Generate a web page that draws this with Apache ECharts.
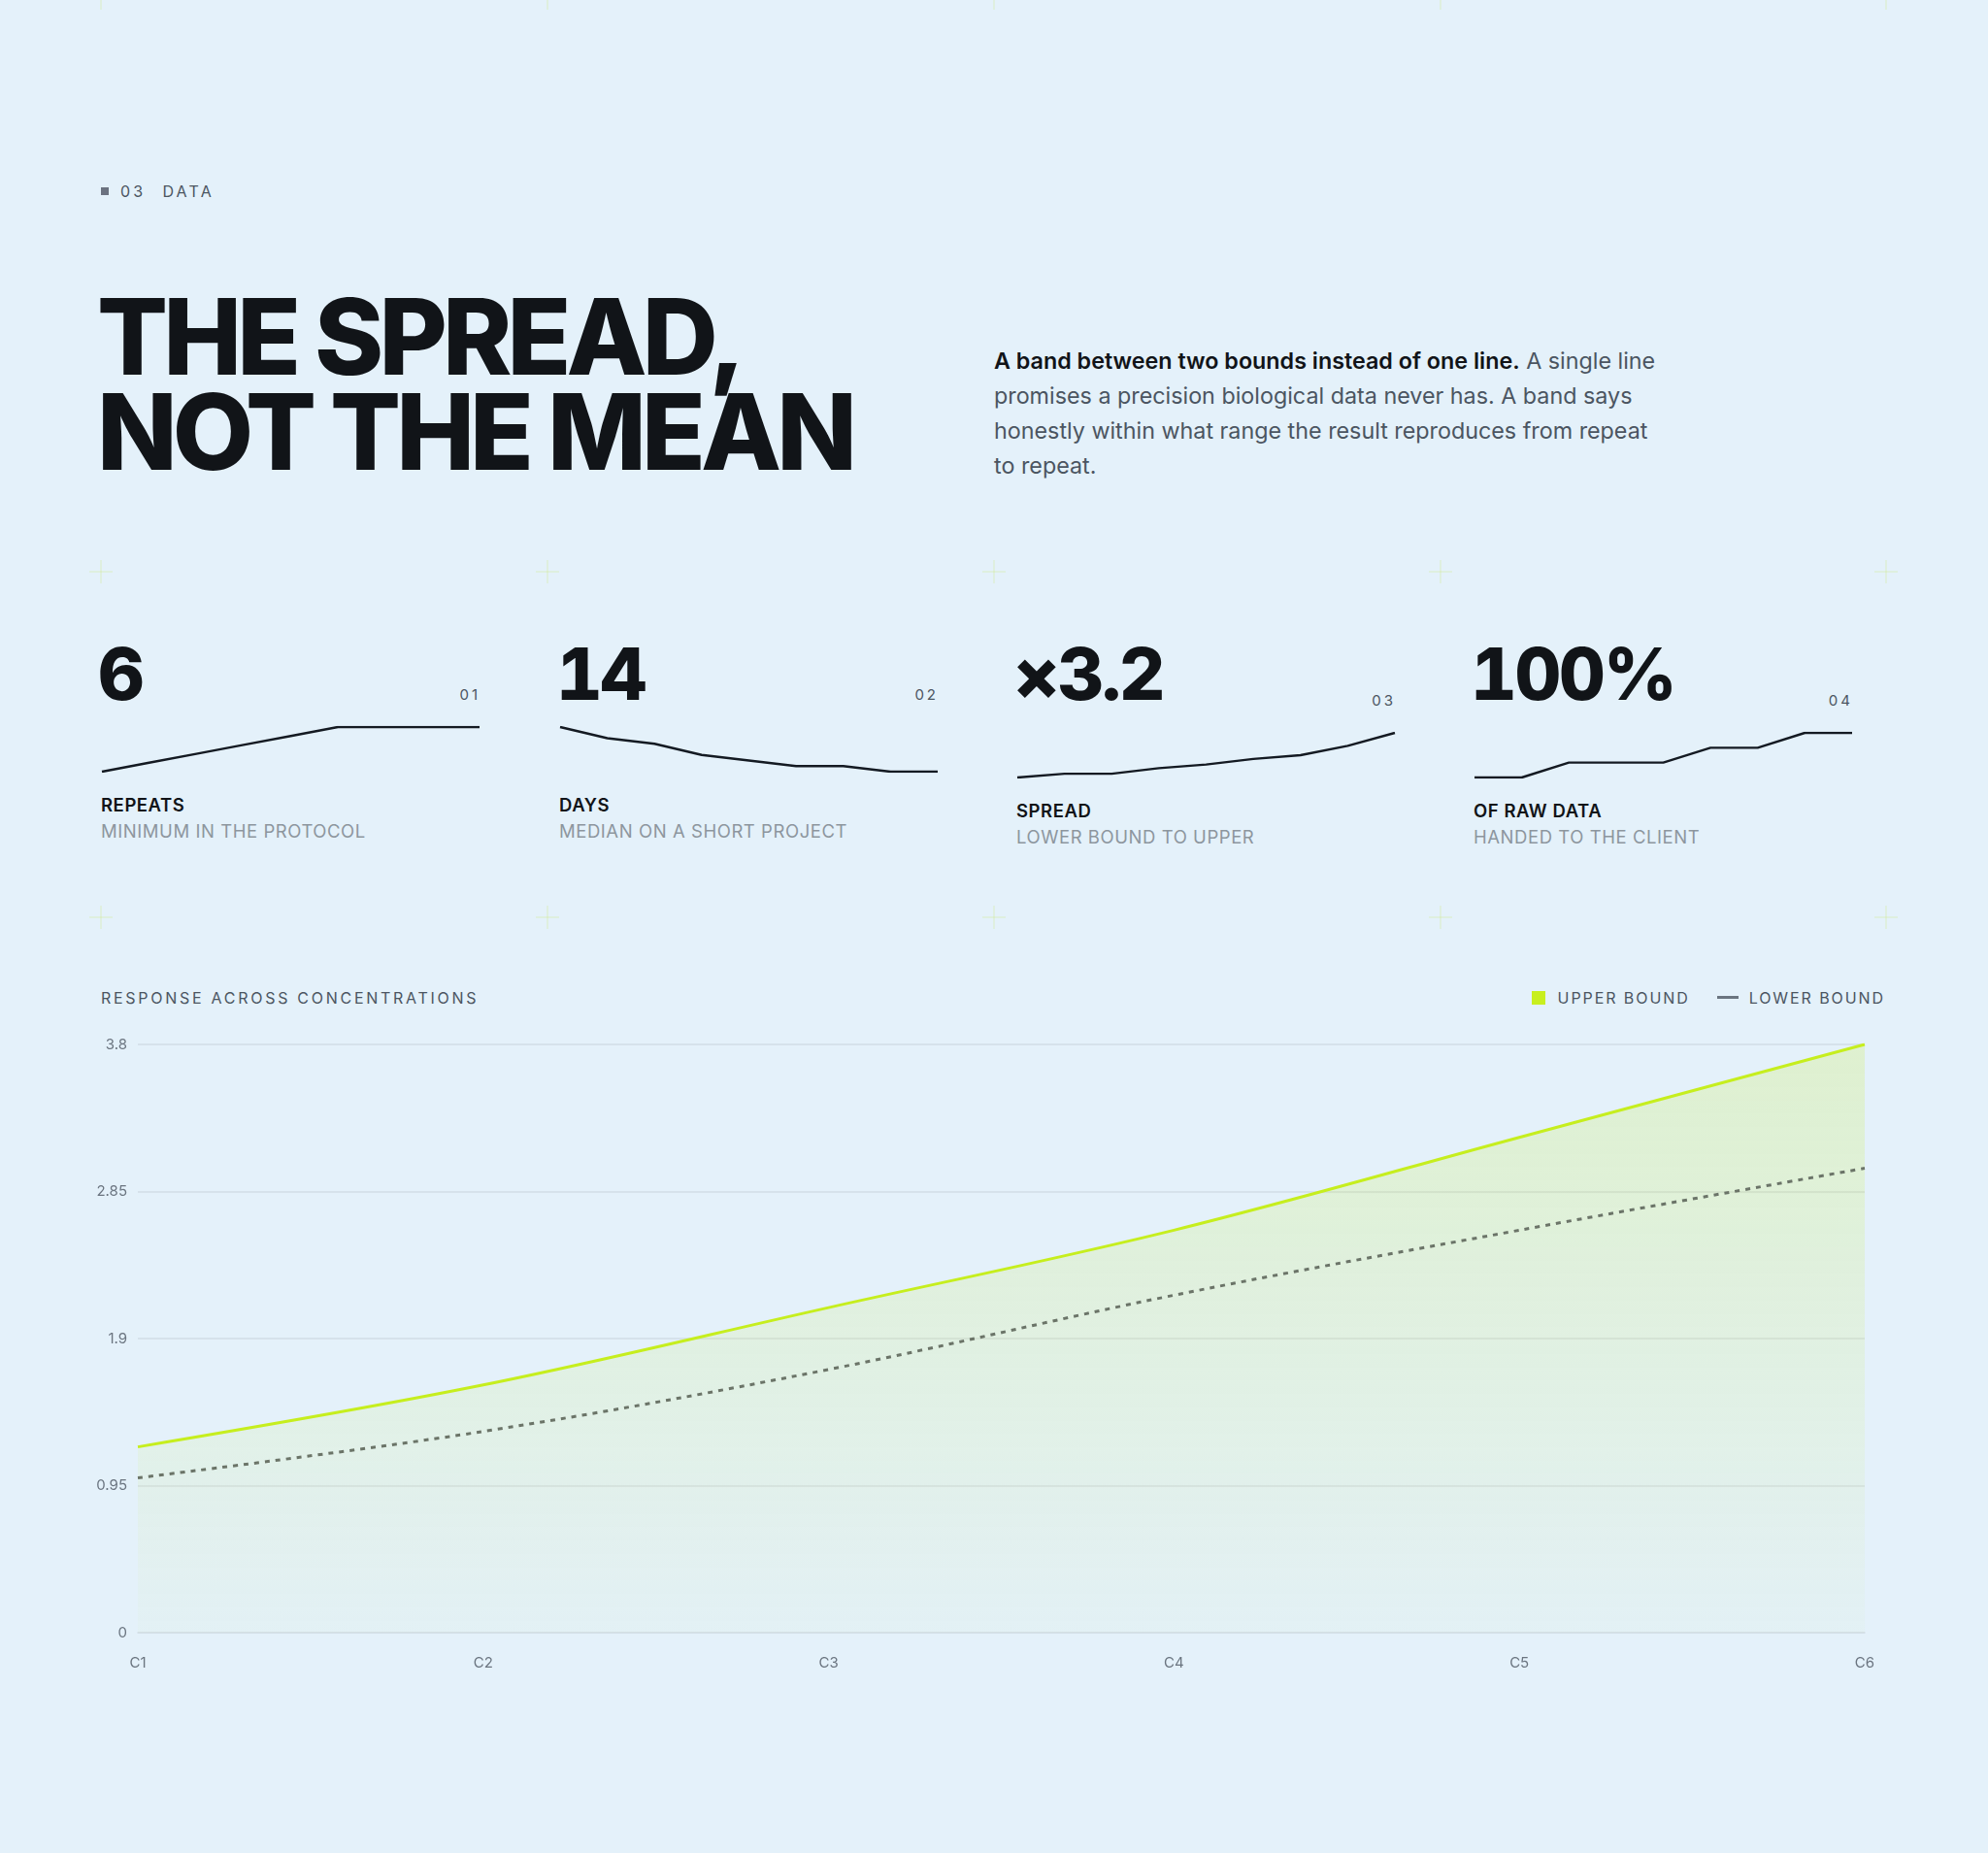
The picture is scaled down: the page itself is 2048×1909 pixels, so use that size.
<!DOCTYPE html>
<html>
<head>
<meta charset="utf-8">
<script src="https://cdn.jsdelivr.net/npm/echarts@6/dist/echarts.min.js"></script>
<style>
  html, body { margin: 0; padding: 0; }
  body {
    width: 2048px; height: 1909px; position: relative; overflow: hidden;
    background: #e4f1fa; font-family: Inter, "Noto Sans", sans-serif; color: #111418;
  }
  .abs { position: absolute; }
  .cross { position: absolute; width: 24px; height: 24px; margin: -12px 0 0 -12px; }
  .cross:before, .cross:after { content: ""; position: absolute; background: rgba(196, 232, 90, 0.16); }
  .cross:before { left: 11px; top: 0; width: 2px; height: 24px; }
  .cross:after { top: 11px; left: 0; height: 2px; width: 24px; }
  .eyebrow { left: 104px; top: 185px; font-size: 16px; line-height: 24px; letter-spacing: 0.2em; color: #4b5561; }
  .eyebrow .sq { display: inline-block; width: 8px; height: 8px; background: #6b7280; margin-right: 12px; vertical-align: 2px; }
  h1 { margin: 0; left: 100px; top: 298px; font-size: 108px; line-height: 98px; font-weight: 800; letter-spacing: -0.045em; }
  .lead { left: 1024px; top: 354px; width: 690px; font-size: 23.3px; line-height: 36px; color: #4b5561; }
  .lead b { color: #111418; font-weight: 600; }
  .num { font-size: 74px; line-height: 74px; font-weight: 800; letter-spacing: -0.03em; font-feature-settings: "tnum"; }
  .idx { font-size: 15px; line-height: 20px; letter-spacing: 0.2em; color: #4b5561; text-align: right; width: 100px; }
  .lbl { font-size: 18.5px; line-height: 24px; font-weight: 600; letter-spacing: 0.03em; }
  .sub { font-size: 18.5px; line-height: 24px; color: #8d969e; letter-spacing: 0.03em; }
  .spark { width: 391px; height: 62px; }
  .ctitle { left: 104px; top: 1016px; font-size: 16px; line-height: 24px; letter-spacing: 0.17em; color: #4b5561; }
  .legend { right: 106px; top: 1016px; font-size: 16px; line-height: 24px; letter-spacing: 0.12em; color: #4b5561; }
  .legend .sw { display: inline-block; width: 14px; height: 14px; background: #c8ef1e; margin-right: 13px; vertical-align: -1px; }
  .legend .ln { display: inline-block; width: 22px; height: 3px; background: #6b7580; margin: 0 11px 0 28px; vertical-align: 5px; }
</style>
</head>
<body>
<div id="crosses"></div>

<div class="abs eyebrow"><span class="sq"></span>03<span style="margin-left:17px">DATA</span></div>
<h1 class="abs">THE SPREAD,<br>NOT THE MEAN</h1>
<div class="abs lead"><b>A band between two bounds instead of one line.</b> A single line promises a precision biological data never has. A band says honestly within what range the result reproduces from repeat to repeat.</div>

<div id="cards"></div>

<div class="abs ctitle">RESPONSE ACROSS CONCENTRATIONS</div>
<div class="abs legend"><span class="sw"></span>UPPER BOUND<span class="ln"></span>LOWER BOUND</div>
<div id="main" class="abs" style="left:0; top:1000px; width:2048px; height:760px;"></div>

<script type="text/javascript">
    // kpi cards
    var kpiValues = ['6', '14', '×3.2', '100%'];
    var kpiLabels = ['REPEATS', 'DAYS', 'SPREAD', 'OF RAW DATA'];
    var kpiSubs = ['MINIMUM IN THE PROTOCOL', 'MEDIAN ON A SHORT PROJECT', 'LOWER BOUND TO UPPER', 'HANDED TO THE CLIENT'];
    var kpiIndex = ['01', '02', '03', '04'];
    var sparkRepeats = [1, 2, 3, 4, 5, 6, 6, 6, 6];
    var sparkDays = [22, 20, 19, 17, 16, 15, 15, 14, 14];
    var sparkSpread = [2.0, 2.1, 2.1, 2.25, 2.35, 2.5, 2.6, 2.85, 3.2];
    var sparkRaw = [85, 85, 90, 90, 90, 95, 95, 100, 100];

    // main chart
    var concentrations = ['C1', 'C2', 'C3', 'C4', 'C5', 'C6'];
    var upperBound = [1.2, 1.6, 2.1, 2.6, 3.2, 3.8];
    var lowerBound = [1.0, 1.3, 1.7, 2.18, 2.6, 3.0];

    // decorative crosses
    var crossX = [104, 564, 1024, 1484, 1943];
    var crossY = [-2, 589, 945];
    var crossHtml = '';
    crossY.forEach(function (y) {
        crossX.forEach(function (x) {
            crossHtml += '<div class="cross" style="left:' + x + 'px;top:' + y + 'px"></div>';
        });
    });
    document.getElementById('crosses').innerHTML = crossHtml;

    var cardLeft = [104, 576, 1047, 1518];
    var cardShift = [0, 0, 6, 6];
    var sparks = [sparkRepeats, sparkDays, sparkSpread, sparkRaw];
    var html = '';
    for (var i = 0; i < 4; i++) {
        var l = cardLeft[i], s = cardShift[i];
        html += '<div class="abs num" style="left:' + (l - 3) + 'px;top:657px">' + kpiValues[i] + '</div>';
        html += '<div class="abs idx" style="left:' + (l + 391 - 100) + 'px;top:' + (706 + s) + 'px">' + kpiIndex[i] + '</div>';
        html += '<div class="abs spark" id="spark' + i + '" style="left:' + l + 'px;top:' + (741 + s) + 'px"></div>';
        html += '<div class="abs lbl" style="left:' + l + 'px;top:' + (817 + s) + 'px">' + kpiLabels[i] + '</div>';
        html += '<div class="abs sub" style="left:' + l + 'px;top:' + (844 + s) + 'px">' + kpiSubs[i] + '</div>';
    }
    document.getElementById('cards').innerHTML = html;

    sparks.forEach(function (data, i) {
        var c = echarts.init(document.getElementById('spark' + i));
        c.setOption({
            animation: false,
            grid: { left: 1, right: 1, top: 8, bottom: 8 },
            xAxis: { type: 'category', show: false, boundaryGap: false, data: data.map(function (d, k) { return k; }) },
            yAxis: { type: 'value', show: false, min: 'dataMin', max: 'dataMax' },
            series: [{
                type: 'line', data: data, symbol: 'none',
                lineStyle: { color: '#141a22', width: 2.4 }
            }]
        });
    });

    var myChart = echarts.init(document.getElementById('main'));
    var option = {
        animation: false,
        textStyle: { fontFamily: 'Inter' },
        grid: { left: 142, right: 127, top: 76, height: 606 },
        xAxis: {
            type: 'category',
            data: concentrations,
            boundaryGap: false,
            axisLine: { show: true, lineStyle: { color: '#d2dde6', width: 1.5 } },
            axisTick: { show: false },
            axisLabel: { color: '#6b7580', fontSize: 15, margin: 24 }
        },
        yAxis: {
            type: 'value',
            min: 0,
            max: 3.8,
            interval: 0.95,
            axisLine: { show: false },
            axisTick: { show: false },
            axisLabel: { color: '#6b7580', fontSize: 15, margin: 11 },
            splitLine: { lineStyle: { color: '#d2dde6', width: 1.5 } }
        },
        series: [
            {
                name: 'Upper bound',
                type: 'line',
                data: upperBound,
                smooth: 0.35,
                symbol: 'none',
                lineStyle: { color: '#c6ee1e', width: 3 },
                areaStyle: {
                    color: new echarts.graphic.LinearGradient(0, 0, 0, 1, [
                        { offset: 0, color: 'rgba(200, 240, 30, 0.28)' },
                        { offset: 1, color: 'rgba(200, 240, 30, 0.03)' }
                    ])
                },
                z: 2
            },
            {
                name: 'Lower bound',
                type: 'line',
                data: lowerBound,
                smooth: 0.35,
                symbol: 'none',
                lineStyle: { color: '#6b7468', width: 3, type: [5, 6] },
                z: 3
            }
        ]
    };
    myChart.setOption(option);
</script>
</body>
</html>
